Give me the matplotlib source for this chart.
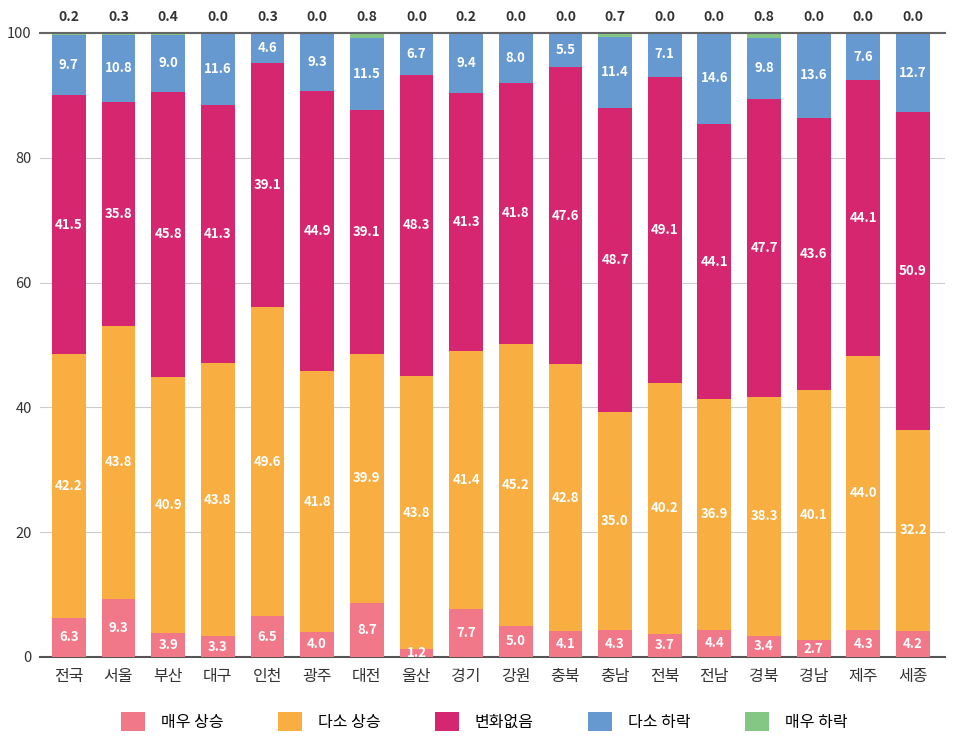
import numpy as np
import matplotlib
matplotlib.use("Agg")
import matplotlib.pyplot as plt
from matplotlib.patches import Patch

plt.rcParams['font.family'] = ['Noto Sans CJK KR', 'DejaVu Sans']

regions = ['전국', '서울', '부산', '대구', '인천', '광주', '대전', '울산', '경기',
           '강원', '충북', '충남', '전북', '전남', '경북', '경남', '제주', '세종']
series = ['매우 상승', '다소 상승', '변화없음', '다소 하락', '매우 하락']

very_up = [6.3, 9.3, 3.9, 3.3, 6.5, 4.0, 8.7, 1.2, 7.7, 5.0, 4.1, 4.3, 3.7, 4.4, 3.4, 2.7, 4.3, 4.2]
some_up = [42.2, 43.8, 40.9, 43.8, 49.6, 41.8, 39.9, 43.8, 41.4, 45.2, 42.8, 35.0, 40.2, 36.9, 38.3, 40.1, 44.0, 32.2]
no_change = [41.5, 35.8, 45.8, 41.3, 39.1, 44.9, 39.1, 48.3, 41.3, 41.8, 47.6, 48.7, 49.1, 44.1, 47.7, 43.6, 44.1, 50.9]
some_down = [9.7, 10.8, 9.0, 11.6, 4.6, 9.3, 11.5, 6.7, 9.4, 8.0, 5.5, 11.4, 7.1, 14.6, 9.8, 13.6, 7.6, 12.7]
very_down = [0.2, 0.3, 0.4, 0.0, 0.3, 0.0, 0.8, 0.0, 0.2, 0.0, 0.0, 0.7, 0.0, 0.0, 0.8, 0.0, 0.0, 0.0]

colors = ['#F07888', '#F8AE40', '#D6266F', '#6699D0', '#84C784']

fig = plt.figure(figsize=(9.59, 7.51), dpi=100)
ax = fig.add_axes([0.0417, 0.1252, 0.944, 0.831])

x = np.arange(len(regions))
data = [very_up, some_up, no_change, some_down, very_down]
bottom = np.zeros(len(regions))
for i, vals in enumerate(data):
    vals = np.array(vals)
    ax.bar(x, vals, 0.68, bottom=bottom, color=colors[i], zorder=3)
    if i < 4:
        for xi, b, v in zip(x, bottom, vals):
            ax.text(xi, b + v / 2, f'{v:.1f}', ha='center', va='center',
                    color='white', fontsize=9.5, fontweight='bold', zorder=4)
    bottom += vals

for xi, v in zip(x, very_down):
    ax.text(xi, 102.5, f'{v:.1f}', ha='center', va='center',
            color='#333333', fontsize=10, fontweight='bold')

ax.set_xlim(-0.58, 17.65)
ax.set_ylim(0, 100)
ax.set_yticks([0, 20, 40, 60, 80, 100])
ax.set_xticks(x)
ax.set_xticklabels(regions, fontsize=11.5, color='#333333')
ax.tick_params(axis='y', labelsize=10.5, colors='#333333', length=0, pad=6)
ax.tick_params(axis='x', length=0, pad=8)
ax.grid(axis='y', color='#cccccc', linewidth=0.8, zorder=0)
for s in ['left', 'right']:
    ax.spines[s].set_visible(False)
ax.spines['top'].set_color('#666666')
ax.spines['top'].set_linewidth(1.5)
ax.spines['bottom'].set_color('#555555')
ax.spines['bottom'].set_linewidth(1.5)
ax.spines['top'].set_zorder(5)

handles = [Patch(facecolor=c) for c in colors]
fig.legend(handles, series, loc='center', bbox_to_anchor=(0.505, 0.039), ncol=5,
           frameon=False, fontsize=11.5, handlelength=1.5, handleheight=1.5,
           columnspacing=3.4, handletextpad=1.0)

fig.savefig('out.png', dpi=100)
